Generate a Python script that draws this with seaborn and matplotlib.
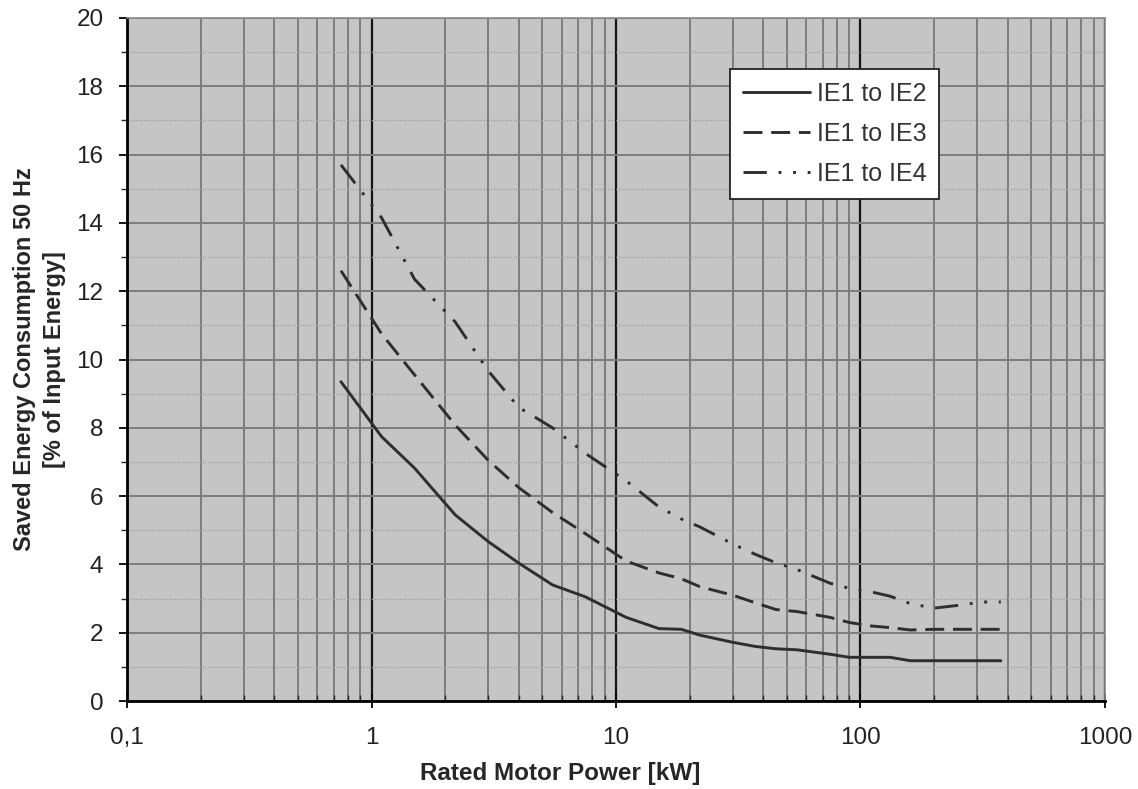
import numpy as np
import pandas as pd
import matplotlib
matplotlib.use("Agg")
import matplotlib.pyplot as plt
import seaborn as sns

# rated power of the standard motor sizes [kW]
power_kw = [0.75, 1.1, 1.5, 2.2, 3, 4, 5.5, 7.5, 11, 15, 18.5, 22, 30, 37, 45,
            55, 75, 90, 110, 132, 160, 200, 250, 315, 355, 375]

# saved energy [% of input energy]
ie1_ie2 = [9.35, 7.74, 6.82, 5.45, 4.67, 4.04, 3.40, 3.05, 2.45, 2.12, 2.10, 1.93,
           1.72, 1.60, 1.53, 1.50, 1.37, 1.28, 1.28, 1.28, 1.18, 1.18, 1.18, 1.18,
           1.18, 1.18]
ie1_ie3 = [12.6, 10.75, 9.55, 8.08, 7.05, 6.25, 5.52, 4.90, 4.10, 3.75, 3.58, 3.35,
           3.10, 2.88, 2.68, 2.62, 2.45, 2.30, 2.20, 2.15, 2.08, 2.10, 2.10, 2.10,
           2.10, 2.10]
ie1_ie4 = [15.7, 14.15, 12.35, 11.1, 9.67, 8.60, 8.00, 7.25, 6.45, 5.68, 5.33, 5.10,
           4.60, 4.30, 4.05, 3.85, 3.45, 3.30, 3.20, 3.07, 2.85, 2.72, 2.80, 2.90,
           2.90, 2.90]

series_names = ["IE1 to IE2", "IE1 to IE3", "IE1 to IE4"]

df = pd.DataFrame({
    "power": power_kw * 3,
    "saved": ie1_ie2 + ie1_ie3 + ie1_ie4,
    "series": [s for s in series_names for _ in power_kw],
})

sns.set_style("ticks")
plt.rcParams["font.family"] = ["Liberation Sans", "DejaVu Sans"]

fig = plt.figure(figsize=(11.38, 7.89), dpi=100)
ax = fig.add_axes([0.1116, 0.1115, 0.8594, 0.8657])
ax.set_facecolor("#c5c5c5")

line_col = "#2e2e2e"
sns.lineplot(data=df, x="power", y="saved", hue="series", style="series",
             palette=[line_col] * 3,
             dashes={"IE1 to IE2": "", "IE1 to IE3": (6.5, 3), "IE1 to IE4": (8, 4, 1, 4, 1, 4)},
             linewidth=2.1, ax=ax, legend=True)

ax.set_xscale("log")
ax.set_xlim(0.1, 1000)
ax.set_ylim(0, 20)
ax.set_xticks([0.1, 1, 10, 100, 1000], ["0,1", "1", "10", "100", "1000"])
ax.set_yticks(np.arange(0, 21, 2))
ax.set_yticks(np.arange(1, 20, 2), minor=True)

# grid
ax.xaxis.grid(True, which="major", color="#151515", lw=1.6)
ax.xaxis.grid(True, which="minor", color="#7d7d7d", lw=1.4)
ax.yaxis.grid(True, which="major", color="#7d7d7d", lw=1.4)
ax.yaxis.grid(True, which="minor", color="#a3a3a3", lw=1.0, linestyle=(0, (1, 1)))
ax.set_axisbelow(True)

for s in ["left", "bottom"]:
    ax.spines[s].set_color("black")
    ax.spines[s].set_linewidth(2)
for s in ["top", "right"]:
    ax.spines[s].set_color("#8a8a8a")
    ax.spines[s].set_linewidth(1.2)

ax.tick_params(axis="both", which="major", labelsize=17.5, colors="black", labelcolor="#222222")
ax.tick_params(axis="y", which="major", direction="out", length=6, width=1.3, pad=11)
ax.tick_params(axis="y", which="minor", direction="out", length=4, width=1.0)
ax.tick_params(axis="x", which="major", direction="inout", length=10, width=1.3, pad=14)
ax.tick_params(axis="x", which="minor", direction="in", length=4, width=1.0)
ax.xaxis.set_minor_formatter(plt.NullFormatter())

ax.set_xlabel("Rated Motor Power [kW]", fontsize=17.5, fontweight="bold")
ax.xaxis.set_label_coords(0.443, -0.09)
ax.set_ylabel("Saved Energy Consumption 50 Hz\n[% of Input Energy]", fontsize=17,
              fontweight="bold", linespacing=1.4)
ax.yaxis.set_label_coords(-0.062, 0.5)

leg = ax.legend(loc="upper left", bbox_to_anchor=(0.617, 0.925), fontsize=18,
                frameon=True, fancybox=False, framealpha=1, edgecolor="#222222",
                handlelength=2.7, borderpad=0.5, labelspacing=0.65, handletextpad=0.25,
                borderaxespad=0)
leg.get_frame().set_linewidth(1.3)
leg.set_title(None)
for t in leg.get_texts():
    t.set_color("#333333")

fig.savefig("out.png", dpi=100)
